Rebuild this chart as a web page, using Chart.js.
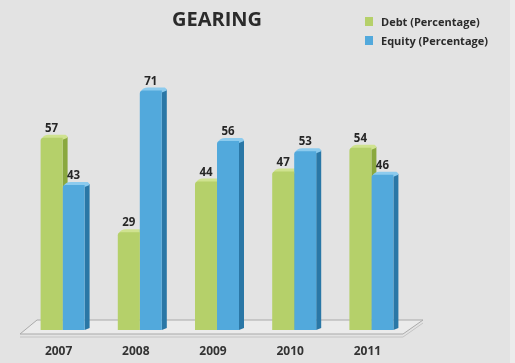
<!DOCTYPE html>
<html lang="en">
<head>
    <meta charset="UTF-8">
    <title>Gearing</title>
    <style>
        body {
            margin: 0;
            padding: 0;
            background-color: #e3e3e3;
            font-family: "Open Sans", Arial, sans-serif;
        }
        .wrap {
            position: relative;
            width: 515px;
            height: 363px;
            background-color: #e3e3e3;
        }
        .edge {
            position: absolute;
            left: 510px;
            top: 0;
            width: 5px;
            height: 363px;
            background-color: #ececec;
        }
        /* legend sits top right, one row per series */
        .legend {
            position: absolute;
            left: 365px;
            top: 12px;
            font-size: 11px;
            font-weight: bold;
            color: #2a2a2a;
        }
        .legend div {
            display: flex;
            align-items: center;
            height: 19px;
        }
        .legend span {
            display: inline-block;
            width: 8px;
            height: 9px;
            margin-right: 8px;
        }
    </style>
    <script src="https://cdn.jsdelivr.net/npm/chart.js"></script>
</head>
<body>

<div class="wrap">
    <canvas id="gearingChart" width="515" height="363"></canvas>
    <div class="edge"></div>
    <div class="legend" id="legend"></div>
</div>

<script>
    // Datos del gráfico
    const years = ['2007', '2008', '2009', '2010', '2011'];
    const debt = [57, 29, 44, 47, 54];
    const equity = [43, 71, 56, 53, 46];
    const seriesNames = ['Debt (Percentage)', 'Equity (Percentage)'];

    const colors = [
        { front: '#b5d06a', side: '#8aa83f', top: '#cfe28f' },
        { front: '#52a9dc', side: '#2a77a6', top: '#8ccbee' }
    ];

    // leyenda en HTML
    const legend = document.getElementById('legend');
    seriesNames.forEach((name, i) => {
        const row = document.createElement('div');
        const box = document.createElement('span');
        box.style.backgroundColor = colors[i].front;
        row.appendChild(box);
        row.appendChild(document.createTextNode(name));
        legend.appendChild(row);
    });

    // plataforma gris bajo las barras
    const floorPlugin = {
        id: 'floor',
        beforeDatasetsDraw(chart) {
            const ctx = chart.ctx;
            const a = chart.chartArea;
            ctx.save();
            ctx.fillStyle = '#ebebeb';
            ctx.strokeStyle = '#a9a9a9';
            ctx.lineWidth = 1;
            ctx.beginPath();
            ctx.moveTo(a.left + 13, a.bottom - 10);
            ctx.lineTo(a.right + 13, a.bottom - 10);
            ctx.lineTo(a.right - 7, a.bottom + 4);
            ctx.lineTo(a.left - 4, a.bottom + 4);
            ctx.closePath();
            ctx.fill();
            ctx.stroke();
            // borde frontal
            ctx.strokeStyle = '#c4c4c4';
            ctx.beginPath();
            ctx.moveTo(a.left - 4, a.bottom + 7);
            ctx.lineTo(a.right - 7, a.bottom + 7);
            ctx.lineTo(a.right + 13, a.bottom - 7);
            ctx.stroke();
            ctx.restore();
        }
    };

    // caras laterales y tapas de las barras (efecto 3D)
    const depthPlugin = {
        id: 'depth',
        beforeDatasetsDraw(chart) {
            const ctx = chart.ctx;
            const d = 5;
            ctx.save();
            chart.data.datasets.forEach((ds, i) => {
                const meta = chart.getDatasetMeta(i);
                meta.data.forEach(bar => {
                    const right = bar.x + bar.width / 2;
                    const left = bar.x - bar.width / 2;
                    ctx.fillStyle = colors[i].side;
                    ctx.beginPath();
                    ctx.moveTo(right, bar.y + 1);
                    ctx.lineTo(right + d, bar.y - 1);
                    ctx.lineTo(right + d, bar.base - 2);
                    ctx.lineTo(right, bar.base);
                    ctx.closePath();
                    ctx.fill();
                    ctx.fillStyle = colors[i].top;
                    ctx.beginPath();
                    ctx.moveTo(left + 1, bar.y + 1);
                    ctx.quadraticCurveTo(left + 3, bar.y - 3, left + 8, bar.y - 3);
                    ctx.lineTo(right + d - 2, bar.y - 3);
                    ctx.quadraticCurveTo(right + d, bar.y - 2, right + d, bar.y);
                    ctx.lineTo(right, bar.y + 2);
                    ctx.closePath();
                    ctx.fill();
                });
            });
            ctx.restore();
        }
    };

    // valores encima de cada barra
    const valuePlugin = {
        id: 'values',
        afterDatasetsDraw(chart) {
            const ctx = chart.ctx;
            ctx.save();
            ctx.font = 'bold 11.5px "Open Sans", Arial, sans-serif';
            ctx.fillStyle = '#262626';
            ctx.textAlign = 'center';
            ctx.textBaseline = 'middle';
            chart.data.datasets.forEach((ds, i) => {
                chart.getDatasetMeta(i).data.forEach((bar, j) => {
                    ctx.fillText(ds.data[j], bar.x, bar.y - 9);
                });
            });
            ctx.restore();
        }
    };

    const ctx = document.getElementById('gearingChart').getContext('2d');
    const gearingChart = new Chart(ctx, {
        type: 'bar',
        data: {
            labels: years,
            datasets: [
                {
                    label: seriesNames[0],
                    data: debt,
                    backgroundColor: colors[0].front,
                    borderSkipped: false,
                    borderRadius: { topLeft: 3, topRight: 0, bottomLeft: 0, bottomRight: 0 }
                },
                {
                    label: seriesNames[1],
                    data: equity,
                    backgroundColor: colors[1].front,
                    borderSkipped: false,
                    borderRadius: { topLeft: 3, topRight: 0, bottomLeft: 0, bottomRight: 0 }
                }
            ]
        },
        options: {
            responsive: false,
            animation: false,
            events: [],
            layout: {
                padding: { left: 24, right: 105, top: 0, bottom: 5 }
            },
            datasets: {
                bar: { barPercentage: 1, categoryPercentage: 0.57 }
            },
            plugins: {
                legend: { display: false },
                tooltip: { enabled: false },
                title: {
                    display: true,
                    text: 'GEARING',
                    color: '#2b2b2b',
                    font: { family: '"Open Sans", Arial, sans-serif', size: 20, weight: 'bold', lineHeight: 1.2 },
                    padding: { top: 8, bottom: 28 }
                }
            },
            scales: {
                x: {
                    grid: { display: false, drawTicks: false },
                    border: { display: false },
                    ticks: {
                        color: '#333333',
                        padding: 14,
                        labelOffset: -4,
                        font: { family: '"Open Sans", Arial, sans-serif', size: 12, weight: 'bold' }
                    },
                    afterFit(scale) {
                        scale.height = 28;
                    }
                },
                y: {
                    display: false,
                    min: 0,
                    max: 80
                }
            }
        },
        plugins: [floorPlugin, depthPlugin, valuePlugin]
    });
</script>

</body>
</html>
